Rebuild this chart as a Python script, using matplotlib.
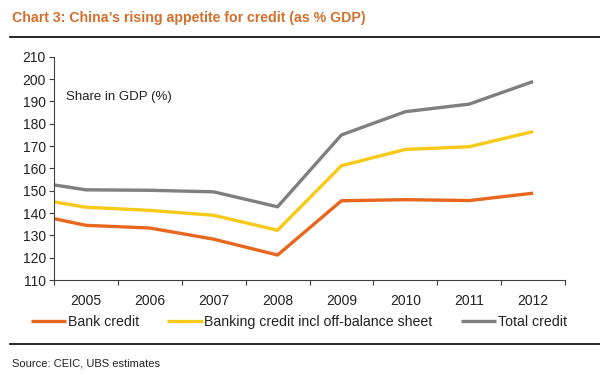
import numpy as np
import matplotlib.pyplot as plt
from matplotlib.lines import Line2D

plt.rcParams['font.family'] = ['Liberation Sans', 'DejaVu Sans']

# Data (first value sits on the left edge of the axis, before 2005)
years = ['2005', '2006', '2007', '2008', '2009', '2010', '2011', '2012']
bank_credit = [137.5, 134.5, 133.3, 128.3, 121.2, 145.5, 146.0, 145.6, 148.9]
banking_incl_obs = [145.0, 142.6, 141.2, 139.0, 132.3, 161.2, 168.5, 169.7, 176.5]
total_credit = [152.6, 150.4, 150.2, 149.5, 142.8, 175.0, 185.4, 188.8, 198.9]

series_names = ['Bank credit', 'Banking credit incl off-balance sheet', 'Total credit']
colors = ['#E8661E', '#F7CA18', '#7F7F7F']

x = np.r_[-0.5, np.arange(len(years))]

fig = plt.figure(figsize=(6, 3.81), dpi=100)
ax = fig.add_axes([0.09, 0.265, 0.8517, 0.586])

for vals, name, c in zip([bank_credit, banking_incl_obs, total_credit], series_names, colors):
    ax.plot(x, vals, color=c, linewidth=2.4, label=name, solid_capstyle='butt')

ax.set_xlim(-0.5, len(years) - 0.5)
ax.set_ylim(110, 210)
ax.set_yticks(np.arange(110, 211, 10))

# ticks at category boundaries, labels at centres
ax.set_xticks(np.arange(-0.5, len(years)))
ax.set_xticklabels([])
ax.set_xticks(np.arange(len(years)), minor=True)
ax.set_xticklabels(years, minor=True)
ax.tick_params(axis='x', which='major', length=3.5, width=0.8, color='#404040')
ax.tick_params(axis='x', which='minor', length=0, pad=10, labelsize=10, labelcolor='#222222')
ax.tick_params(axis='y', length=3.3, width=0.8, pad=2.5, labelsize=10, color='#404040', labelcolor='#222222')

for s in ['top', 'right']:
    ax.spines[s].set_visible(False)
for s in ['left', 'bottom']:
    ax.spines[s].set_color('#404040')
    ax.spines[s].set_linewidth(0.8)

ax.text(0.023, 0.821, 'Share in GDP (%)', transform=ax.transAxes, fontsize=9.5,
        va='center', ha='left', color='#222222')

fig.legend(loc='center', bbox_to_anchor=(0.498, 0.155), ncol=3, frameon=False,
           fontsize=10.2, handlelength=2.5, handletextpad=0.1, columnspacing=2.0,
           labelcolor='#222222')

# title, rules and source
fig.text(0.02, 1 - 18 / 381, 'Chart 3: China\u2019s rising appetite for credit (as % GDP)',
         fontsize=10.2, fontweight='bold', color='#D2702C', va='center', ha='left')
fig.add_artist(Line2D([10 / 600, 1], [1 - 37 / 381, 1 - 37 / 381], color='black', linewidth=1.2))
fig.add_artist(Line2D([10 / 600, 1], [1 - 344 / 381, 1 - 344 / 381], color='black', linewidth=1.2))
fig.text(0.02, 1 - 363 / 381, 'Source: CEIC, UBS estimates', fontsize=8, color='#222222',
         va='center', ha='left')

fig.savefig('out.png', dpi=100)
